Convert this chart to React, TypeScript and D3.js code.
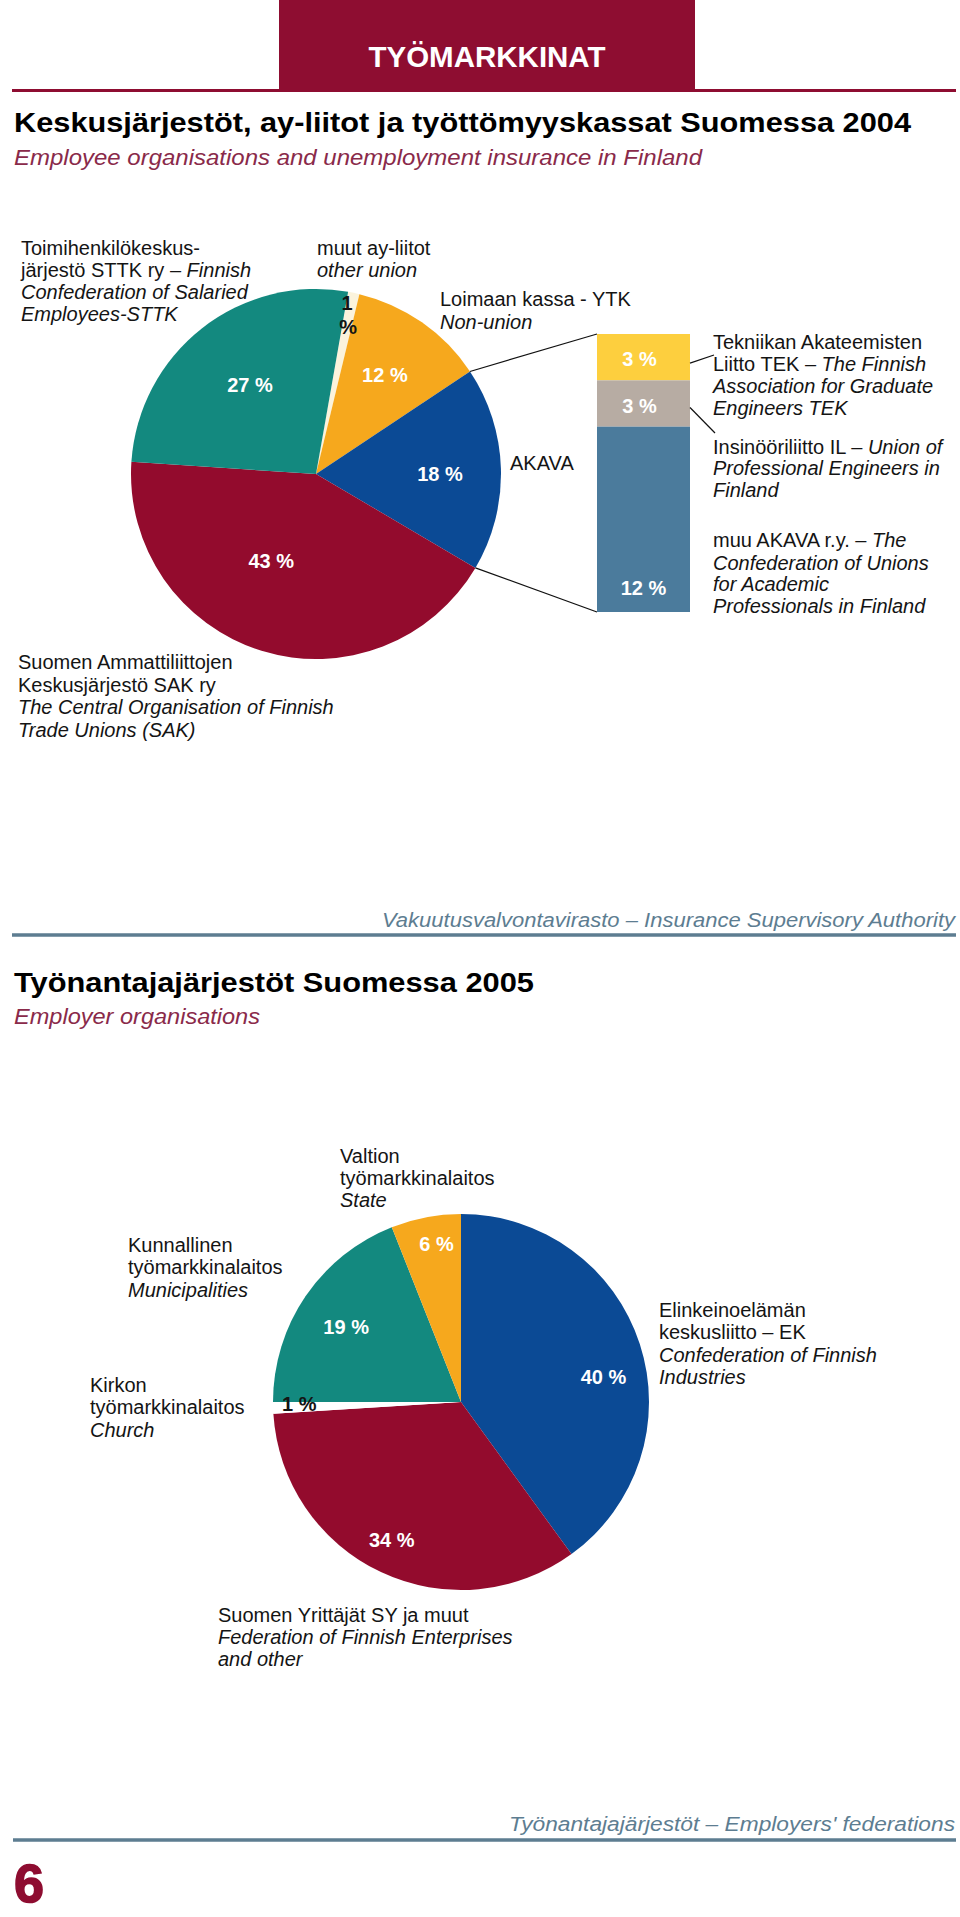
import React from 'react';
import * as d3 from 'd3';

// ---------- DATA ----------
const unionCategories = ['muut ay-liitot', 'Loimaan kassa - YTK', 'AKAVA', 'SAK', 'STTK'];
const unionShares = [1, 12, 18, 43, 27];
const unionLabels = ['1 %', '12 %', '18 %', '43 %', '27 %'];

const akavaCategories = ['TEK', 'IL', 'muu AKAVA'];
const akavaShares = [3, 3, 12];
const akavaLabels = ['3 %', '3 %', '12 %'];

const employerCategories = ['EK', 'SY ja muut', 'Kirkon', 'Kunnallinen', 'Valtion'];
const employerShares = [40, 34, 1, 19, 6];
const employerLabels = ['40 %', '34 %', '1 %', '19 %', '6 %'];

// ---------- STYLE / LAYOUT ----------
const W = 960;
const H = 1917;
const FONT = "'Liberation Sans', Arial, Helvetica, sans-serif";
const DARKRED = '#8e0d31';
const MAROON = '#8a2a4a';
const SLATE = '#5d7d91';
const TXT = '#141414';

const unionColors = ['#fbf3dc', '#f6a81d', '#0b4a95', '#930b2d', '#13897f'];
const unionLabelColors = [TXT, '#fff', '#fff', '#fff', '#fff'];
const akavaColors = ['#fdcf3e', '#b7aca3', '#4b7b9c'];
const employerColors = ['#0b4a95', '#930b2d', '#ffffff', '#13897f', '#f6a81d'];
const employerLabelColors = ['#fff', '#fff', TXT, '#fff', '#fff'];

// label placement: [radius factor, angle offset in degrees]
const unionLabelPos: [number, number][] = [[0.94, -1.5], [0.65, 0], [0.67, 1.5], [0.53, 10], [0.6, 1.6]];
const employerLabelPos: [number, number][] = [[0.77, 8], [0.82, 1.5], [0.86, 1], [0.73, -1], [0.85, 2]];

type Seg = [string, boolean];
type Line = [number, Seg[]];
interface Note { x: number; lines: Line[] }

const unionNotes: Note[] = [
  { x: 21, lines: [[255, [['Toimihenkilökeskus-', false]]], [277, [['järjestö STTK ry – ', false], ['Finnish', true]]], [299, [['Confederation of Salaried', true]]], [321, [['Employees-STTK', true]]]] },
  { x: 317, lines: [[255, [['muut ay-liitot', false]]], [277, [['other union', true]]]] },
  { x: 440, lines: [[306, [['Loimaan kassa - YTK', false]]], [329, [['Non-union', true]]]] },
  { x: 510, lines: [[470, [['AKAVA', false]]]] },
  { x: 18, lines: [[669, [['Suomen Ammattiliittojen', false]]], [692, [['Keskusjärjestö SAK ry', false]]], [714, [['The Central Organisation of Finnish', true]]], [737, [['Trade Unions (SAK)', true]]]] },
  { x: 713, lines: [[349, [['Tekniikan Akateemisten', false]]], [371, [['Liitto TEK – ', false], ['The Finnish', true]]], [393, [['Association for Graduate', true]]], [415, [['Engineers TEK', true]]]] },
  { x: 713, lines: [[454, [['Insinööriliitto IL – ', false], ['Union of', true]]], [475, [['Professional Engineers in', true]]], [497, [['Finland', true]]]] },
  { x: 713, lines: [[547, [['muu AKAVA r.y. – ', false], ['The', true]]], [570, [['Confederation of Unions', true]]], [591, [['for Academic', true]]], [613, [['Professionals in Finland', true]]]] },
];

const employerNotes: Note[] = [
  { x: 340, lines: [[1163, [['Valtion', false]]], [1185, [['työmarkkinalaitos', false]]], [1207, [['State', true]]]] },
  { x: 128, lines: [[1252, [['Kunnallinen', false]]], [1274, [['työmarkkinalaitos', false]]], [1297, [['Municipalities', true]]]] },
  { x: 90, lines: [[1392, [['Kirkon', false]]], [1414, [['työmarkkinalaitos', false]]], [1437, [['Church', true]]]] },
  { x: 659, lines: [[1317, [['Elinkeinoelämän', false]]], [1339, [['keskusliitto – EK', false]]], [1362, [['Confederation of Finnish', true]]], [1384, [['Industries', true]]]] },
  { x: 218, lines: [[1622, [['Suomen Yrittäjät SY ja muut', false]]], [1644, [['Federation of Finnish Enterprises', true]]], [1666, [['and other', true]]]] },
];

const rad = (d: number) => (d * Math.PI) / 180;
const polar = (cx: number, cy: number, r: number, a: number): [number, number] => [cx + r * Math.sin(a), cy - r * Math.cos(a)];

function NoteText({ note }: { note: Note }) {
  return (
    <text fontFamily={FONT} fontSize={20} fill={TXT}>
      {note.lines.map(([y, segs], i) => (
        <tspan key={i} x={note.x} y={y}>
          {segs.map(([t, it], j) => (
            <tspan key={j} fontStyle={it ? 'italic' : 'normal'}>{t}</tspan>
          ))}
        </tspan>
      ))}
    </text>
  );
}

function Pie({ cx, cy, r, start, values, colors, labels, labelColors, labelPos, splitFirst, keys }: any) {
  const arcs = d3.pie<number>().sort(null).value((d) => d).startAngle(rad(start)).endAngle(rad(start + 360))(values);
  const arcGen = d3.arc<d3.PieArcDatum<number>>().innerRadius(0).outerRadius(r);
  return (
    <g>
      <g transform={`translate(${cx},${cy})`}>
        {arcs.map((a, i) => (
          <path key={keys[i]} d={arcGen(a) || ''} fill={colors[i]} />
        ))}
      </g>
      {arcs.map((a, i) => {
        const [rf, da] = labelPos[i];
        const mid = (a.startAngle + a.endAngle) / 2 + rad(da);
        const [x, y] = polar(cx, cy, r * rf, mid);
        if (splitFirst && i === 0) {
          const parts = labels[i].split(' ');
          return (
            <text key={'l' + i} fontFamily={FONT} fontWeight="bold" fontSize={20} fill={labelColors[i]} textAnchor="middle">
              <tspan x={x} y={y + 7}>{parts[0]}</tspan>
              <tspan x={x + 1} y={y + 31}>{parts[1]}</tspan>
            </text>
          );
        }
        return (
          <text key={'l' + i} x={x} y={y + 7} fontFamily={FONT} fontWeight="bold" fontSize={20} fill={labelColors[i]} textAnchor="middle">
            {labels[i]}
          </text>
        );
      })}
    </g>
  );
}

export default function App() {
  const p1 = { cx: 316, cy: 474, r: 185, start: 10 };
  const p2 = { cx: 461, cy: 1402, r: 188, start: 0 };

  // AKAVA connection points
  const arcs1 = d3.pie<number>().sort(null).value((d) => d).startAngle(rad(p1.start)).endAngle(rad(p1.start + 360))(unionShares);
  const akavaArc = arcs1[unionCategories.indexOf('AKAVA')];
  const pTop = polar(p1.cx, p1.cy, p1.r, akavaArc.startAngle);
  const pBot = polar(p1.cx, p1.cy, p1.r, akavaArc.endAngle);

  // stacked bar
  const total = d3.sum(akavaShares);
  const xBand = d3.scaleBand<string>().domain(['AKAVA']).range([597, 690]).padding(0);
  const yBar = d3.scaleLinear().domain([0, total]).range([334, 612]);
  let cum = 0;
  const segs = akavaShares.map((v, i) => {
    const s = { y0: yBar(cum), y1: yBar(cum + v), i };
    cum += v;
    return s;
  });
  const bx0 = xBand('AKAVA') as number;
  const bw = xBand.bandwidth();
  const bx1 = bx0 + bw;

  return (
    <svg width={W} height={H} viewBox={`0 0 ${W} ${H}`} style={{ position: 'absolute', left: 0, top: 0, background: '#fff' }}>
      <rect x={0} y={0} width={W} height={H} fill="#fff" />
      {/* header */}
      <rect x={279} y={0} width={416} height={90} fill={DARKRED} />
      <text x={487} y={67} fontFamily={FONT} fontWeight="bold" fontSize={30} fill="#fff" textAnchor="middle" textLength={237} lengthAdjust="spacingAndGlyphs">TYÖMARKKINAT</text>
      <line x1={12} x2={956} y1={90.5} y2={90.5} stroke={DARKRED} strokeWidth={3} />

      <text x={14} y={132} fontFamily={FONT} fontWeight="bold" fontSize={28.5} fill="#000" textLength={897} lengthAdjust="spacingAndGlyphs">Keskusjärjestöt, ay-liitot ja työttömyyskassat Suomessa 2004</text>
      <text x={14} y={165} fontFamily={FONT} fontStyle="italic" fontSize={22} fill={MAROON} textLength={688} lengthAdjust="spacingAndGlyphs">Employee organisations and unemployment insurance in Finland</text>

      {/* pie 1 */}
      <Pie {...p1} values={unionShares} colors={unionColors} labels={unionLabels} labelColors={unionLabelColors} labelPos={unionLabelPos} splitFirst keys={unionCategories} />

      {/* connectors */}
      <line x1={pTop[0]} y1={pTop[1]} x2={bx0} y2={yBar(0)} stroke="#111" strokeWidth={1.2} />
      <line x1={pBot[0]} y1={pBot[1]} x2={bx0} y2={yBar(total)} stroke="#111" strokeWidth={1.2} />

      {/* stacked bar */}
      {segs.map((s) => (
        <rect key={akavaCategories[s.i]} x={bx0} y={s.y0} width={bw} height={s.y1 - s.y0} fill={akavaColors[s.i]} />
      ))}
      {segs.map((s) => {
        const tall = s.y1 - s.y0 > 100;
        const y = tall ? s.y1 - 24 : (s.y0 + s.y1) / 2 + 2;
        return (
          <text key={'bl' + s.i} x={bx0 + bw / 2 - (tall ? 0 : 4)} y={y + 7} fontFamily={FONT} fontWeight="bold" fontSize={20} fill="#fff" textAnchor="middle">{akavaLabels[s.i]}</text>
        );
      })}
      {/* leaders */}
      <line x1={bx1} y1={(segs[0].y0 + segs[0].y1) / 2 + 6} x2={714} y2={355} stroke="#111" strokeWidth={1.2} />
      <line x1={bx1} y1={(segs[1].y0 + segs[1].y1) / 2 + 4} x2={715} y2={433} stroke="#111" strokeWidth={1.2} />

      {unionNotes.map((n, i) => <NoteText key={'un' + i} note={n} />)}

      {/* source 1 */}
      <text x={955} y={927} fontFamily={FONT} fontStyle="italic" fontSize={20} fill={SLATE} textAnchor="end" textLength={573} lengthAdjust="spacingAndGlyphs">Vakuutusvalvontavirasto – Insurance Supervisory Authority</text>
      <line x1={12} x2={956} y1={935} y2={935} stroke={SLATE} strokeWidth={3.5} />

      {/* section 2 */}
      <text x={14} y={992} fontFamily={FONT} fontWeight="bold" fontSize={28.5} fill="#000" textLength={520} lengthAdjust="spacingAndGlyphs">Työnantajajärjestöt Suomessa 2005</text>
      <text x={14} y={1024} fontFamily={FONT} fontStyle="italic" fontSize={22} fill={MAROON} textLength={246} lengthAdjust="spacingAndGlyphs">Employer organisations</text>

      <Pie {...p2} values={employerShares} colors={employerColors} labels={employerLabels} labelColors={employerLabelColors} labelPos={employerLabelPos} keys={employerCategories} />
      {employerNotes.map((n, i) => <NoteText key={'en' + i} note={n} />)}

      {/* footer */}
      <text x={955} y={1831} fontFamily={FONT} fontStyle="italic" fontSize={20} fill={SLATE} textAnchor="end" textLength={446} lengthAdjust="spacingAndGlyphs">Työnantajajärjestöt  – Employers' federations</text>
      <line x1={13} x2={956} y1={1840} y2={1840} stroke={SLATE} strokeWidth={3.5} />
      <text x={14} y={1902} fontFamily={FONT} fontWeight="bold" fontSize={54} fill={DARKRED} stroke={DARKRED} strokeWidth={1.5}>6</text>
    </svg>
  );
}
